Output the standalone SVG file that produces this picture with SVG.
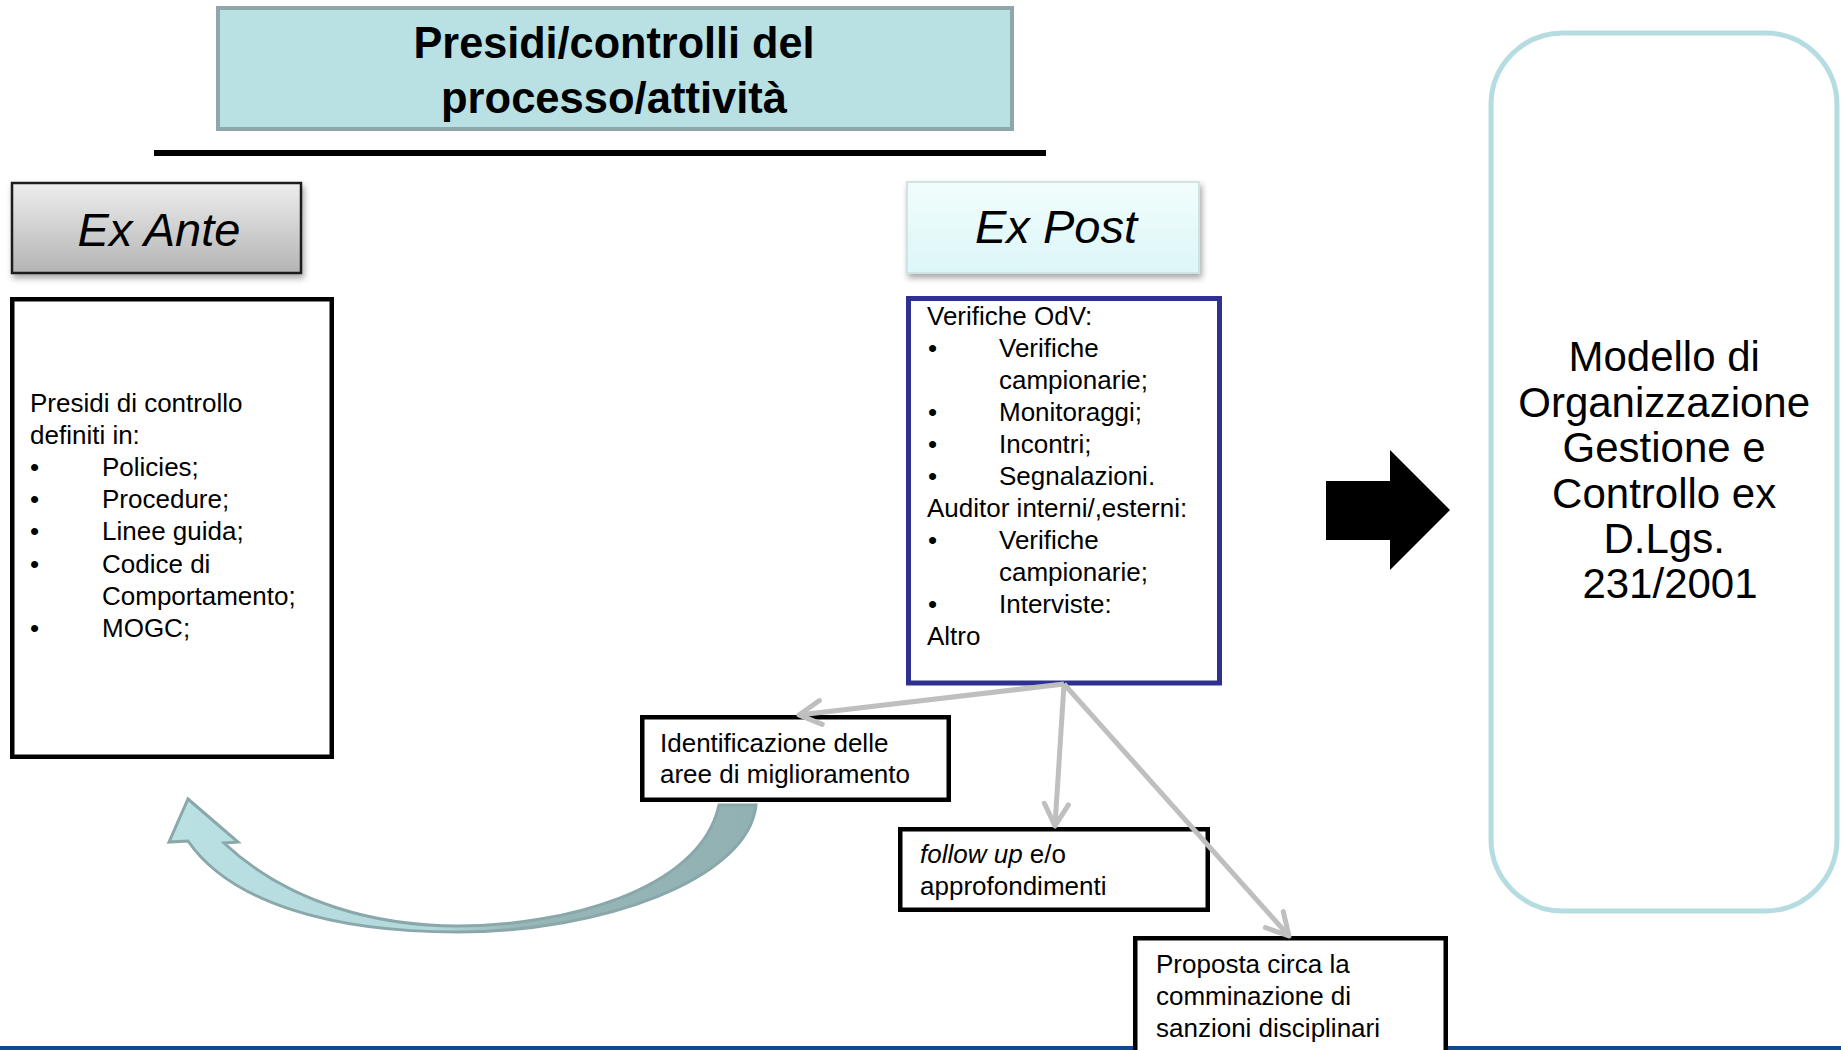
<svg xmlns="http://www.w3.org/2000/svg" width="1841" height="1050" viewBox="0 0 1841 1050">
<defs>
<style>
.t{font-family:"Liberation Sans",Arial,sans-serif;fill:#000;}
.body{font-size:26px;}
.box{fill:#fff;stroke:#000;stroke-width:4.5;}
.conn{fill:none;stroke:#bfbfbf;stroke-width:5;marker-end:url(#ah);}
</style>
<linearGradient id="gAnte" x1="0" y1="0" x2="0" y2="1">
<stop offset="0" stop-color="#ededed"/>
<stop offset="1" stop-color="#b4b4b4"/>
</linearGradient>
<linearGradient id="gPost" x1="0" y1="0" x2="0" y2="1">
<stop offset="0" stop-color="#f2fdfd"/>
<stop offset="1" stop-color="#dcf6f7"/>
</linearGradient>
<linearGradient id="gCurve" x1="0" y1="0" x2="1" y2="0">
<stop offset="0" stop-color="#b9e0e3"/>
<stop offset="0.45" stop-color="#b4d9dc"/>
<stop offset="0.6" stop-color="#98b6b8"/>
<stop offset="1" stop-color="#92b1b3"/>
</linearGradient>
<filter id="sh" x="-10%" y="-10%" width="125%" height="135%">
<feDropShadow dx="2" dy="4" stdDeviation="3" flood-color="#000" flood-opacity="0.35"/>
</filter>
<marker id="ah" markerUnits="userSpaceOnUse" markerWidth="40" markerHeight="40" viewBox="-30 -20 40 40" refX="0" refY="0" orient="auto">
<path d="M-22,-12 L0,0 L-22,12" fill="none" stroke="#bfbfbf" stroke-width="5" stroke-linecap="round" stroke-linejoin="round"/>
</marker>
</defs>
<rect x="0" y="0" width="1841" height="1050" fill="#fff"/>
<rect id="bottom-band" x="0" y="1046" width="1841" height="4" fill="#0f4a8e"/>

<g id="title">
<rect x="218" y="8" width="794" height="121" fill="#b9e0e3" stroke="#8fa7a9" stroke-width="4"/>
<text class="t" x="614" y="58" font-size="44" font-weight="bold" text-anchor="middle" textLength="401" lengthAdjust="spacingAndGlyphs">Presidi/controlli del</text>
<text class="t" x="614" y="113" font-size="44" font-weight="bold" text-anchor="middle" textLength="346" lengthAdjust="spacingAndGlyphs">processo/attività</text>
</g>
<rect id="divider" x="154" y="150" width="892" height="6" fill="#000"/>

<g id="ex-ante-header">
<rect x="12" y="183" width="289" height="90" fill="url(#gAnte)" stroke="#1a1a1a" stroke-width="2.5" filter="url(#sh)"/>
<text class="t" x="159" y="246" font-size="47" font-style="italic" text-anchor="middle">Ex Ante</text>
</g>

<g id="ex-post-header">
<rect x="907" y="182" width="292" height="91" fill="url(#gPost)" stroke="#cfe3e4" stroke-width="2" filter="url(#sh)"/>
<text class="t" x="1056" y="243" font-size="47" font-style="italic" text-anchor="middle">Ex Post</text>
</g>

<g id="ex-ante-content">
<rect class="box" x="12.25" y="299.25" width="319.5" height="457.5"/>
<text class="t body" x="30" y="412">Presidi di controllo</text>
<text class="t body" x="30" y="444">definiti in:</text>
<text class="t body" x="30" y="476">•</text><text class="t body" x="102" y="476">Policies;</text>
<text class="t body" x="30" y="508">•</text><text class="t body" x="102" y="508">Procedure;</text>
<text class="t body" x="30" y="540">•</text><text class="t body" x="102" y="540">Linee guida;</text>
<text class="t body" x="30" y="573">•</text><text class="t body" x="102" y="573">Codice di</text>
<text class="t body" x="102" y="605">Comportamento;</text>
<text class="t body" x="30" y="637">•</text><text class="t body" x="102" y="637">MOGC;</text>
</g>

<g id="ex-post-content">
<rect x="908.5" y="298.5" width="311" height="384.5" fill="#fff" stroke="#2e3190" stroke-width="5"/>
<text class="t body" x="927" y="325">Verifiche OdV:</text>
<text class="t body" x="928" y="357">•</text><text class="t body" x="999" y="357">Verifiche</text>
<text class="t body" x="999" y="389">campionarie;</text>
<text class="t body" x="928" y="421">•</text><text class="t body" x="999" y="421">Monitoraggi;</text>
<text class="t body" x="928" y="453">•</text><text class="t body" x="999" y="453">Incontri;</text>
<text class="t body" x="928" y="485">•</text><text class="t body" x="999" y="485">Segnalazioni.</text>
<text class="t body" x="927" y="517">Auditor interni/,esterni:</text>
<text class="t body" x="928" y="549">•</text><text class="t body" x="999" y="549">Verifiche</text>
<text class="t body" x="999" y="581">campionarie;</text>
<text class="t body" x="928" y="613">•</text><text class="t body" x="999" y="613">Interviste:</text>
<text class="t body" x="927" y="645">Altro</text>
</g>

<g id="big-arrow">
<polygon points="1326,481 1390,481 1390,450 1450,510 1390,570 1390,540 1326,540" fill="#000"/>
</g>

<g id="modello">
<rect x="1491" y="33" width="346" height="878" rx="72" ry="72" fill="#fff" stroke="#b5dde1" stroke-width="5"/>
<text class="t" font-size="42" text-anchor="middle">
<tspan x="1670" y="371">Modello di</tspan>
<tspan x="1670" y="417">Organizzazione</tspan>
<tspan x="1670" y="462">Gestione e</tspan>
<tspan x="1670" y="508">Controllo ex</tspan>
<tspan x="1670" y="553">D.Lgs.</tspan>
<tspan x="1670" y="598">231/2001</tspan>
</text>
</g>

<g id="identificazione">
<rect class="box" x="642.25" y="717.25" width="306.5" height="82.5"/>
<text class="t body" x="660" y="752">Identificazione delle</text>
<text class="t body" x="660" y="783">aree di miglioramento</text>
</g>

<g id="follow-up">
<rect class="box" x="900.25" y="829.25" width="307.5" height="80.5"/>
<text class="t body" x="920" y="863"><tspan font-style="italic">follow up</tspan> e/o</text>
<text class="t body" x="920" y="895">approfondimenti</text>
</g>

<g id="proposta">
<rect class="box" x="1135.25" y="938.25" width="310.5" height="130"/>
<text class="t body" x="1156" y="973">Proposta circa la</text>
<text class="t body" x="1156" y="1005">comminazione di</text>
<text class="t body" x="1156" y="1037">sanzioni disciplinari</text>
</g>

<g id="connectors">
<path d="M188,799 L238,842 L224,843 C290,905 380,926 458,926 C560,926 700,892 719,805 L756,805 C748,880 600,932 458,932 C330,932 230,902 188,841 L169,842 Z" fill="url(#gCurve)" stroke="#8aa8aa" stroke-width="3" stroke-linejoin="miter"/>
<line class="conn" x1="1064" y1="684" x2="799" y2="715"/>
<line class="conn" x1="1064" y1="684" x2="1055" y2="826"/>
<line class="conn" x1="1064" y1="684" x2="1289" y2="936"/>
</g>
</svg>
